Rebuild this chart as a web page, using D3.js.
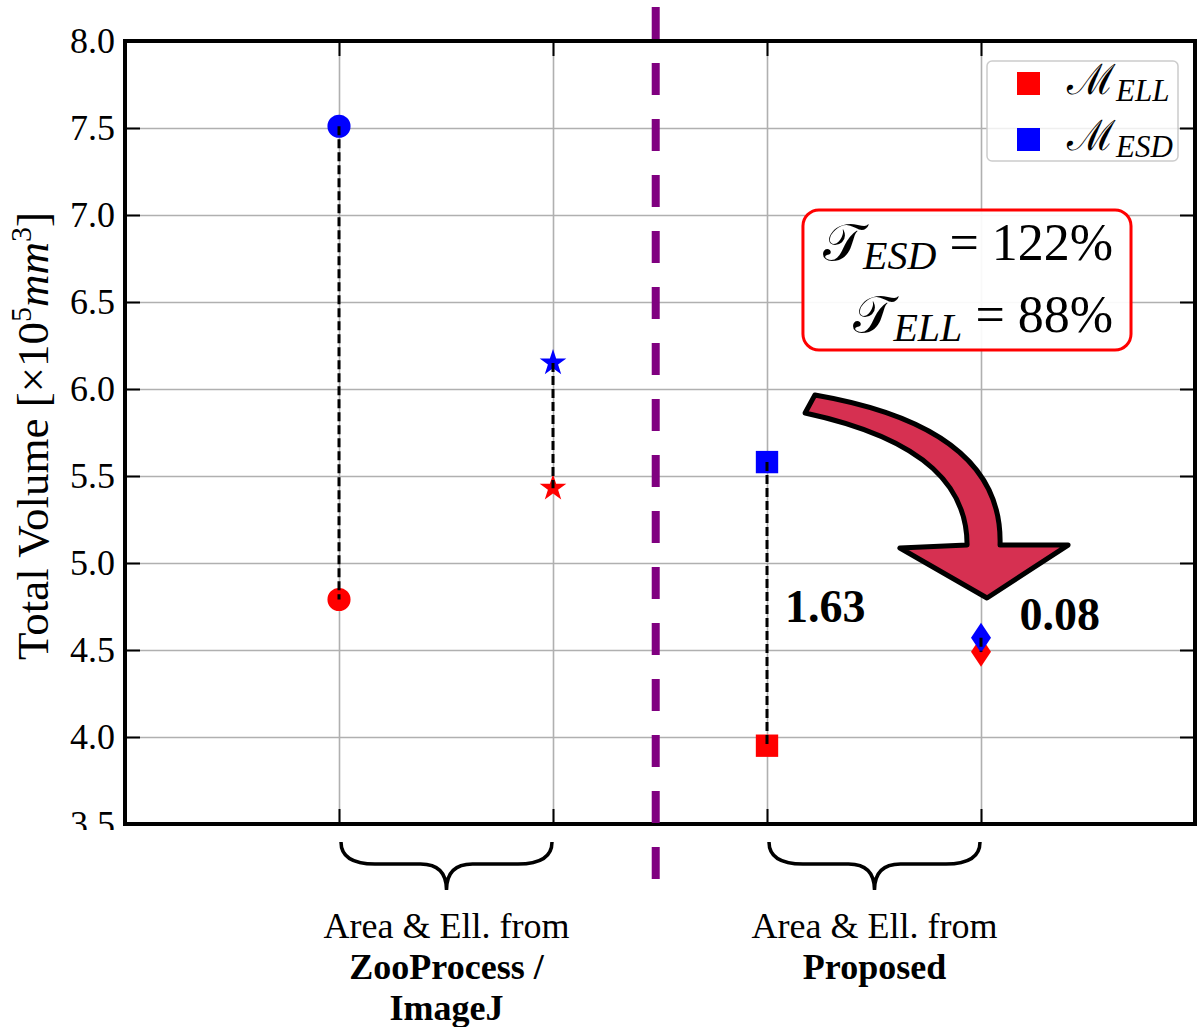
<!DOCTYPE html>
<html>
<head>
<meta charset="utf-8">
<script src="https://cdn.jsdelivr.net/npm/d3@7"></script>
<style>
  body { margin: 0; background: #fff; }
  svg { display: block; }
  .tick text { font-family: "Liberation Serif", serif; }
</style>
</head>
<body>
<svg id="chart"></svg>
<script>
// values
const positions = [0, 1, 2, 3];
const esdValues = [7.51, 6.15, 5.58, 4.57];
const ellValues = [4.79, 5.43, 3.95, 4.49];
const markerShapes = ['circle', 'star', 'square', 'diamond'];
const yTicks = [3.5, 4.0, 4.5, 5.0, 5.5, 6.0, 6.5, 7.0, 7.5, 8.0];
const diffLabels = ['1.63', '0.08'];
const diffPos = [[2.084, 4.66], [3.18, 4.615]];
const groupLines = [
    [['Area & Ell. from', false], ['ZooProcess /', true], ['ImageJ', true]],
    [['Area & Ell. from', false], ['Proposed', true]]
];
const groupSpans = [[0, 1], [2, 3]];
const splitX = 1.48;

// curved arrow outline, data units
const arrowOuter = [[2.224, 5.966], [2.902, 5.822], [3.098, 5.477], [3.089, 5.103]];
const arrowHead = [[3.407, 5.103], [3.028, 4.799], [2.621, 5.086]];
const arrowInner = [[2.935, 5.103], [2.935, 5.420], [2.762, 5.707], [2.178, 5.862]];
const boxCorners = [[2.168, 7.029], [3.701, 6.224]];

const config = {
    width: 1197,
    height: 1027,
    margin: { top: 41, right: 2, bottom: 203, left: 125 }
};

const width = config.width - config.margin.left - config.margin.right;
const height = config.height - config.margin.top - config.margin.bottom;

const xScale = d3.scaleLinear().domain([-1, 4]).range([0, width]);
const yScale = d3.scaleLinear().domain([3.5, 8.0]).range([height, 0]);

const svg = d3.select('#chart')
    .attr('width', config.width)
    .attr('height', config.height);

svg.append('defs').append('clipPath')
    .attr('id', 'tick-clip')
    .append('rect')
    .attr('x', -200).attr('y', -100)
    .attr('width', 400).attr('height', height + 106);

const chart = svg.append('g')
    .attr('transform', `translate(${config.margin.left},${config.margin.top})`);

// grid
chart.append('g')
    .attr('class', 'grid')
    .call(d3.axisLeft(yScale).tickValues(yTicks).tickSize(-width).tickFormat(''))
    .call(g => g.select('.domain').remove())
    .call(g => g.selectAll('line').attr('stroke', '#b0b0b0').attr('stroke-width', 1.6));

chart.append('g')
    .attr('class', 'grid')
    .attr('transform', `translate(0,${height})`)
    .call(d3.axisBottom(xScale).tickValues(positions).tickSize(-height).tickFormat(''))
    .call(g => g.select('.domain').remove())
    .call(g => g.selectAll('line').attr('stroke', '#b0b0b0').attr('stroke-width', 1.6));

// axes with inward ticks
const yAxisG = chart.append('g')
    .attr('clip-path', 'url(#tick-clip)')
    .call(d3.axisLeft(yScale).tickValues(yTicks).tickSize(-15).tickPadding(10).tickFormat(d3.format('.1f')))
    .call(g => g.select('.domain').remove());
yAxisG.selectAll('text').attr('font-size', 36).attr('fill', '#000');
yAxisG.selectAll('line').attr('stroke', '#000').attr('stroke-width', 2);

chart.append('g')
    .attr('transform', `translate(${width},0)`)
    .call(d3.axisRight(yScale).tickValues(yTicks).tickSize(-15).tickFormat(''))
    .call(g => g.select('.domain').remove())
    .call(g => g.selectAll('line').attr('stroke', '#000').attr('stroke-width', 2));

chart.append('g')
    .call(d3.axisTop(xScale).tickValues(positions).tickSize(-15).tickFormat(''))
    .call(g => g.select('.domain').remove())
    .call(g => g.selectAll('line').attr('stroke', '#000').attr('stroke-width', 2));

chart.append('g')
    .attr('transform', `translate(0,${height})`)
    .call(d3.axisBottom(xScale).tickValues(positions).tickSize(-15).tickFormat(''))
    .call(g => g.select('.domain').remove())
    .call(g => g.selectAll('line').attr('stroke', '#000').attr('stroke-width', 2));

// markers
function markerPath(shape) {
    if (shape === 'circle') return d3.symbol(d3.symbolCircle, 420)();
    if (shape === 'star') return d3.symbol(d3.symbolStar, 220)();
    if (shape === 'square') return d3.symbol(d3.symbolSquare, 500)();
    return 'M0,-15L10,0L0,15L-10,0Z';
}

const pairs = positions.map((p, i) => ({ x: p, esd: esdValues[i], ell: ellValues[i], shape: markerShapes[i] }));

chart.selectAll('.mk-ell')
    .data(pairs)
    .join('path')
    .attr('class', 'mk-ell')
    .attr('d', d => markerPath(d.shape))
    .attr('transform', d => `translate(${xScale(d.x)},${yScale(d.ell)})`)
    .attr('fill', '#ff0000');

chart.selectAll('.mk-esd')
    .data(pairs)
    .join('path')
    .attr('class', 'mk-esd')
    .attr('d', d => markerPath(d.shape))
    .attr('transform', d => `translate(${xScale(d.x)},${yScale(d.esd)})`)
    .attr('fill', '#0000ff');

chart.selectAll('.pair-line')
    .data(pairs)
    .join('line')
    .attr('class', 'pair-line')
    .attr('x1', d => xScale(d.x)).attr('x2', d => xScale(d.x))
    .attr('y1', d => yScale(d.esd)).attr('y2', d => yScale(d.ell))
    .attr('stroke', '#000')
    .attr('stroke-width', 3)
    .attr('stroke-dasharray', '9,4');

// difference labels
chart.selectAll('.diff')
    .data(diffLabels)
    .join('text')
    .attr('class', 'diff')
    .attr('x', (d, i) => xScale(diffPos[i][0]))
    .attr('y', (d, i) => yScale(diffPos[i][1]))
    .attr('font-family', 'Liberation Serif, serif')
    .attr('font-weight', 'bold')
    .attr('font-size', 46)
    .text(d => d);

// curved arrow
const px = p => [xScale(p[0]), yScale(p[1])];
const arrow = d3.path();
let p = px(arrowOuter[0]);
arrow.moveTo(p[0], p[1]);
let c1 = px(arrowOuter[1]), c2 = px(arrowOuter[2]), e = px(arrowOuter[3]);
arrow.bezierCurveTo(c1[0], c1[1], c2[0], c2[1], e[0], e[1]);
arrowHead.forEach(q => { const r = px(q); arrow.lineTo(r[0], r[1]); });
p = px(arrowInner[0]);
arrow.lineTo(p[0], p[1]);
c1 = px(arrowInner[1]); c2 = px(arrowInner[2]); e = px(arrowInner[3]);
arrow.bezierCurveTo(c1[0], c1[1], c2[0], c2[1], e[0], e[1]);
arrow.closePath();

chart.append('path')
    .attr('d', arrow.toString())
    .attr('fill', '#d63051')
    .attr('stroke', '#000')
    .attr('stroke-width', 5)
    .attr('stroke-linejoin', 'round');

// ratio box
const b0 = px(boxCorners[0]), b1 = px(boxCorners[1]);
chart.append('rect')
    .attr('x', b0[0]).attr('y', b0[1])
    .attr('width', b1[0] - b0[0]).attr('height', b1[1] - b0[1])
    .attr('rx', 16)
    .attr('fill', '#fff').attr('fill-opacity', 0.92)
    .attr('stroke', '#ff0000').attr('stroke-width', 3);

const boxLines = [['ESD', '122%', 6.741], ['ELL', '88%', 6.328]];
boxLines.forEach(([sub, val, yv]) => {
    const t = chart.append('text')
        .attr('x', xScale(3.617))
        .attr('y', yScale(yv))
        .attr('text-anchor', 'end')
        .attr('font-family', 'Liberation Serif, DejaVu Serif, serif')
        .attr('font-size', 52);
    t.append('tspan').text('\u{1D4AF}');
    t.append('tspan').attr('font-style', 'italic').attr('font-size', 40).attr('dy', 9).text(sub);
    t.append('tspan').attr('dy', -9).text(' = ' + val);
});

// legend
const legend = chart.append('g')
    .attr('transform', `translate(${width - 208},20)`);
legend.append('rect')
    .attr('width', 191).attr('height', 100).attr('rx', 5)
    .attr('fill', '#fff').attr('fill-opacity', 0.8)
    .attr('stroke', '#cccccc').attr('stroke-width', 1.5);
[['ELL', '#ff0000'], ['ESD', '#0000ff']].forEach(([sub, col], i) => {
    legend.append('rect')
        .attr('x', 30).attr('y', 11 + i * 56)
        .attr('width', 23).attr('height', 23)
        .attr('fill', col);
    const t = legend.append('text')
        .attr('x', 80).attr('y', 33 + i * 56)
        .attr('font-family', 'Liberation Serif, DejaVu Serif, serif')
        .attr('font-size', 42);
    t.append('tspan').text('\u2133');
    t.append('tspan').attr('font-style', 'italic').attr('font-size', 31).attr('dy', 7).text(sub);
});

// frame
chart.append('rect')
    .attr('width', width).attr('height', height)
    .attr('fill', 'none')
    .attr('stroke', '#000').attr('stroke-width', 4);

// split line between methods
chart.append('line')
    .attr('x1', xScale(splitX)).attr('x2', xScale(splitX))
    .attr('y1', yScale(8.195)).attr('y2', yScale(3.178))
    .attr('stroke', '#800080')
    .attr('stroke-width', 8)
    .attr('stroke-dasharray', '32,24');

// braces and group labels
groupSpans.forEach(([a, b], gi) => {
    const xa = xScale(a) + 2, xb = xScale(b) - 1, xm = (xa + xb) / 2;
    const y0 = height + 18, y1 = height + 40, y2 = height + 66;
    const brace = d3.path();
    brace.moveTo(xa, y0);
    brace.quadraticCurveTo(xa, y1, xa + 34, y1);
    brace.lineTo(xm - 26, y1);
    brace.quadraticCurveTo(xm, y1, xm, y2);
    brace.quadraticCurveTo(xm, y1, xm + 26, y1);
    brace.lineTo(xb - 34, y1);
    brace.quadraticCurveTo(xb, y1, xb, y0);
    chart.append('path')
        .attr('d', brace.toString())
        .attr('fill', 'none')
        .attr('stroke', '#000')
        .attr('stroke-width', 3.5);

    groupLines[gi].forEach(([txt, bold], li) => {
        chart.append('text')
            .attr('x', xm)
            .attr('y', height + 114 + li * 41)
            .attr('text-anchor', 'middle')
            .attr('font-family', 'Liberation Serif, serif')
            .attr('font-size', 36)
            .attr('font-weight', bold ? 'bold' : 'normal')
            .text(txt);
    });
});

// y label
const yl = svg.append('text')
    .attr('transform', `translate(48,436) rotate(-90)`)
    .attr('text-anchor', 'middle')
    .attr('font-family', 'Liberation Serif, serif')
    .attr('font-size', 45);
yl.append('tspan').text('Total Volume [\u00D710');
yl.append('tspan').attr('font-size', 30).attr('dy', -17).text('5');
yl.append('tspan').attr('font-style', 'italic').attr('dy', 17).text('mm');
yl.append('tspan').attr('font-size', 30).attr('dy', -17).text('3');
yl.append('tspan').attr('dy', 17).text(']');
</script>
</body>
</html>
